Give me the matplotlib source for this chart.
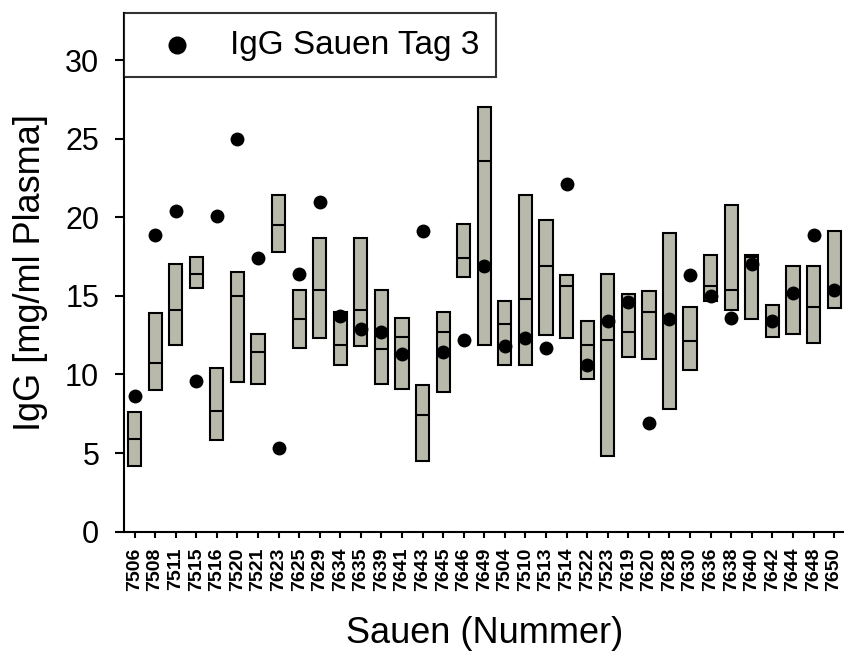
import numpy as np
import matplotlib
matplotlib.use("Agg")
import matplotlib.pyplot as plt

plt.rcParams['font.family'] = ['Liberation Sans', 'DejaVu Sans']

# Sow IDs and IgG range (min / median / max) per sow, plus IgG of the sow on day 3
sows = ["7506", "7508", "7511", "7515", "7516", "7520", "7521", "7623", "7625",
        "7629", "7634", "7635", "7639", "7641", "7643", "7645", "7646", "7649",
        "7504", "7510", "7513", "7514", "7522", "7523", "7619", "7620", "7628",
        "7630", "7636", "7638", "7640", "7642", "7644", "7648", "7650"]
box_low = [4.2, 9.0, 11.9, 15.5, 5.8, 9.5, 9.4, 17.8, 11.7, 12.3, 10.6, 11.8,
           9.4, 9.1, 4.5, 8.9, 16.2, 11.9, 10.6, 10.6, 12.5, 12.3, 9.7, 4.8,
           11.1, 11.0, 7.8, 10.3, 14.7, 14.1, 13.5, 12.4, 12.6, 12.0, 14.2]
box_high = [7.6, 13.9, 17.0, 17.5, 10.4, 16.5, 12.6, 21.4, 15.4, 18.7, 14.0, 18.7,
            15.4, 13.6, 9.3, 14.0, 19.6, 27.0, 14.7, 21.4, 19.8, 16.3, 13.4, 16.4,
            15.1, 15.3, 19.0, 14.3, 17.6, 20.8, 17.6, 14.4, 16.9, 16.9, 19.1]
box_median = [5.9, 10.7, 14.1, 16.4, 7.7, 15.0, 11.4, 19.5, 13.5, 15.4, 11.9, 14.1,
              11.6, 12.4, 7.4, 12.7, 17.4, 23.6, 13.2, 14.8, 16.9, 15.6, 11.9, 12.2,
              12.7, 14.0, 13.5, 12.1, 15.6, 15.4, 17.5, 13.5, 15.2, 14.3, 15.5]
igg_day3 = [8.6, 18.9, 20.4, 9.6, 20.1, 25.0, 17.4, 5.3, 16.4, 21.0, 13.7, 12.9,
            12.7, 11.3, 19.1, 11.4, 12.2, 16.9, 11.8, 12.3, 11.7, 22.1, 10.6, 13.4,
            14.6, 6.9, 13.5, 16.3, 15.0, 13.6, 17.0, 13.4, 15.2, 18.9, 15.4]

x = np.arange(len(sows))
low = np.array(box_low)
high = np.array(box_high)

fig = plt.figure(figsize=(8.45, 6.55), dpi=100)
ax = fig.add_axes([0.1462, 0.1883, 0.8538, 0.792])

lw = 1.5
bw = 0.64
ax.bar(x, high - low, bottom=low, width=bw, color="#b9b9ab",
       edgecolor="black", linewidth=lw, zorder=2)
ax.hlines(box_median, x - bw / 2, x + bw / 2, color="black", linewidth=lw, zorder=3)
ax.scatter(x, igg_day3, s=100, color="black", linewidths=0, zorder=4,
           label="IgG Sauen Tag 3")

ax.set_xlim(-0.535, 34.53)
ax.set_ylim(0, 33)
ax.set_yticks([0, 5, 10, 15, 20, 25, 30])
ax.set_xticks(x)
ax.set_xticklabels(sows, rotation=90, fontsize=14, fontweight="bold")
ax.tick_params(axis="y", labelsize=22, direction="out", length=6.5, width=lw, pad=11)
ax.tick_params(axis="x", direction="out", length=4.5, width=lw, pad=7)

for side in ("top", "right"):
    ax.spines[side].set_visible(False)
for side in ("left", "bottom"):
    ax.spines[side].set_linewidth(lw)

ax.set_ylabel("IgG [mg/ml Plasma]", fontsize=26, labelpad=12)
ax.set_xlabel("Sauen (Nummer)", fontsize=26, labelpad=18)

leg = ax.legend(loc="upper left", bbox_to_anchor=(0.0, 1.0), fontsize=24,
                frameon=True, fancybox=False, borderpad=0.5, handlelength=2.2,
                handletextpad=0.48, borderaxespad=0.0, markerscale=1.3)
leg.get_frame().set_edgecolor("black")
leg.get_frame().set_linewidth(lw)

fig.savefig("out.png", dpi=100)
